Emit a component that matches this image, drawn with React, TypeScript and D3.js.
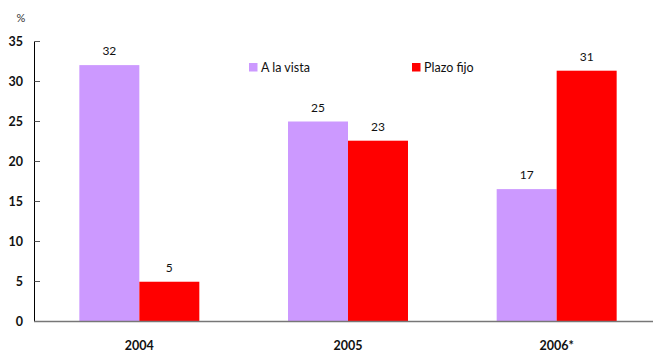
import React from "react";
import * as d3 from "d3";

const categories = ["2004", "2005", "2006*"];
const series = ["A la vista", "Plazo fijo"];
const aLaVista = [32.05, 25.0, 16.55];
const plazoFijo = [4.97, 22.6, 31.35];
const labelsALaVista = ["32", "25", "17"];
const labelsPlazoFijo = ["5", "23", "31"];
const yTicks = [0, 5, 10, 15, 20, 25, 30, 35];
const colors = ["#CC99FF", "#FF0000"];

const W = 654;
const H = 353;
const font = "Lato, 'Open Sans', sans-serif";

export default function App() {
  const y = d3.scaleLinear().domain([0, 35]).range([321.5, 41.5]);
  const x0 = d3
    .scaleBand<string>()
    .domain(categories)
    .range([35, 661])
    .paddingInner(0.425)
    .paddingOuter(0.2125);
  const x1 = d3.scaleBand<string>().domain(series).range([0, x0.bandwidth()]);
  const values = [aLaVista, plazoFijo];
  const labels = [labelsALaVista, labelsPlazoFijo];

  return (
    <svg
      width={W}
      height={H}
      style={{ position: "absolute", left: 0, top: 0, background: "#fff" }}
    >
      {series.map((s, si) =>
        categories.map((c, ci) => {
          const v = values[si][ci];
          const bx = (x0(c) ?? 0) + (x1(s) ?? 0);
          return (
            <g key={s + c}>
              <rect
                x={bx}
                y={y(v)}
                width={x1.bandwidth()}
                height={y(0) - y(v)}
                fill={colors[si]}
              />
              <text
                x={bx + x1.bandwidth() / 2}
                y={y(v) - 10}
                textAnchor="middle"
                fontFamily={font}
                fontSize={12}
                fill="#111"
              >
                {labels[si][ci]}
              </text>
            </g>
          );
        })
      )}
      <line x1={34.5} x2={34.5} y1={y(35)} y2={y(0)} stroke="#000" strokeWidth={1} />
      {yTicks.map((t) => (
        <g key={t}>
          <line x1={34.5} x2={40} y1={y(t)} y2={y(t)} stroke="#555" strokeWidth={1} />
          <text
            x={23}
            y={y(t) + 4.5}
            textAnchor="end"
            fontFamily={font}
            fontWeight="bold"
            fontSize={12.5}
            fill="#111"
          >
            {t}
          </text>
        </g>
      ))}
      <text x={21} y={22} textAnchor="middle" fontFamily={font} fontSize={11} fill="#333">
        %
      </text>
      <line x1={34} x2={653} y1={y(0)} y2={y(0)} stroke="#777" strokeWidth={1.5} />
      {categories.map((c) => (
        <text
          key={c}
          x={(x0(c) ?? 0) + x0.bandwidth() / 2}
          y={350}
          textAnchor="middle"
          fontFamily={font}
          fontWeight="bold"
          fontSize={12.5}
          fill="#111"
        >
          {c}
        </text>
      ))}
      {series.map((s, i) => (
        <g key={s} transform={`translate(${i === 0 ? 249 : 412},63)`}>
          <rect width={8.5} height={8.5} fill={colors[i]} />
          <text x={12} y={9} fontFamily={font} fontSize={12.5} fill="#111">
            {s}
          </text>
        </g>
      ))}
    </svg>
  );
}
